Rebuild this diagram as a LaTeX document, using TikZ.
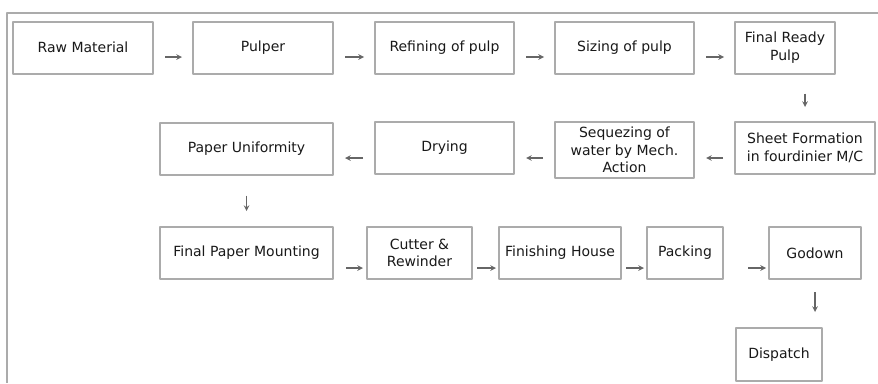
\documentclass[tikz,border=0pt]{standalone}
\usepackage{fontspec}
\setmainfont{DejaVu Sans}
\usetikzlibrary{arrows}
\definecolor{boxgray}{HTML}{ABABAB}
\definecolor{arrowgray}{HTML}{666666}
\tikzset{
  stepbox/.style={draw=boxgray, line width=2pt, fill=white, align=center,
    inner sep=1pt, minimum height=52pt, text=black!90},
  flow/.style={->, arrowgray, line width=1.5pt},
}
\begin{document}
\begin{tikzpicture}[x=1pt, y=-1pt, font=\fontsize{14}{17.5}\selectfont, line join=round, >=stealth]
\useasboundingbox (0,0) rectangle (878,383);
\draw[boxgray, line width=2pt] (878,13) -- (7,13) -- (7,383);
% first row
\node[stepbox, minimum width=140pt] (raw) at (83,47.5) {Raw Material};
\node[stepbox, minimum width=140pt] (pulper) at (263,47.5) {Pulper};
\node[stepbox, minimum width=139pt] (refine) at (444.5,47.5) {Refining of pulp};
\node[stepbox, minimum width=139pt] (sizing) at (624.5,47.5) {Sizing of pulp};
\node[stepbox, minimum width=100pt] (ready) at (785,47.5) {Final Ready\\Pulp};
% second row
\node[stepbox, minimum width=140pt] (sheet) at (805,148) {Sheet Formation\\in fourdinier M/C};
\node[stepbox, minimum width=139pt, minimum height=56pt] (squeeze) at (624.5,150) {Sequezing of\\water by Mech.\\Action};
\node[stepbox, minimum width=139pt] (drying) at (444.5,148) {Drying};
\node[stepbox, minimum width=173pt] (unif) at (246.5,148.5) {Paper Uniformity};
% third row
\node[stepbox, minimum width=173pt] (mount) at (246.5,253) {Final Paper Mounting};
\node[stepbox, minimum width=105pt] (cutter) at (419.5,253) {Cutter \&\\Rewinder};
\node[stepbox, minimum width=122pt] (finish) at (560,253) {Finishing House};
\node[stepbox, minimum width=76pt] (packing) at (685,253) {Packing};
\node[stepbox, minimum width=92pt] (godown) at (815,253) {Godown};
\node[stepbox, minimum width=86pt, minimum height=53pt] (dispatch) at (779,354.5) {Dispatch};
% arrows
\foreach \a/\b in {raw/pulper, pulper/refine, refine/sizing, sizing/ready}
  \draw[flow, shorten <=11pt, shorten >=10pt] ([yshift=-9.5pt]\a.east) -- ([yshift=-9.5pt]\a.east -| \b.west);
\draw[flow, shorten <=19pt, shorten >=14pt] (sheet.north |- ready.south) -- (sheet.north);
\foreach \a/\b in {sheet/squeeze, drying/unif}
  \draw[flow, shorten <=11pt, shorten >=11pt] ([yshift=-10pt]\a.west) -- ([yshift=-10pt]\a.west -| \b.east);
\draw[flow, shorten <=11pt, shorten >=11pt] ([yshift=-8pt]squeeze.west) -- ([yshift=-8pt]squeeze.west -| drying.east);
\draw[flow, shorten <=20pt, shorten >=15pt] (unif.south) -- (mount.north);
\draw[flow, shorten <=12pt, shorten >=3pt] ([yshift=-15pt]mount.east) -- ([yshift=-15pt]mount.east -| cutter.west);
\foreach \a/\b in {cutter/finish, finish/packing}
  \draw[flow, shorten <=4pt, shorten >=2pt] ([yshift=-15pt]\a.east) -- ([yshift=-15pt]\a.east -| \b.west);
\draw[flow, shorten <=24pt, shorten >=2pt] ([yshift=-15pt]packing.east) -- ([yshift=-15pt]packing.east -| godown.west);
\draw[flow, shorten <=12pt, shorten >=15pt] (godown.south) -- (godown.south |- dispatch.north);
\end{tikzpicture}
\end{document}
